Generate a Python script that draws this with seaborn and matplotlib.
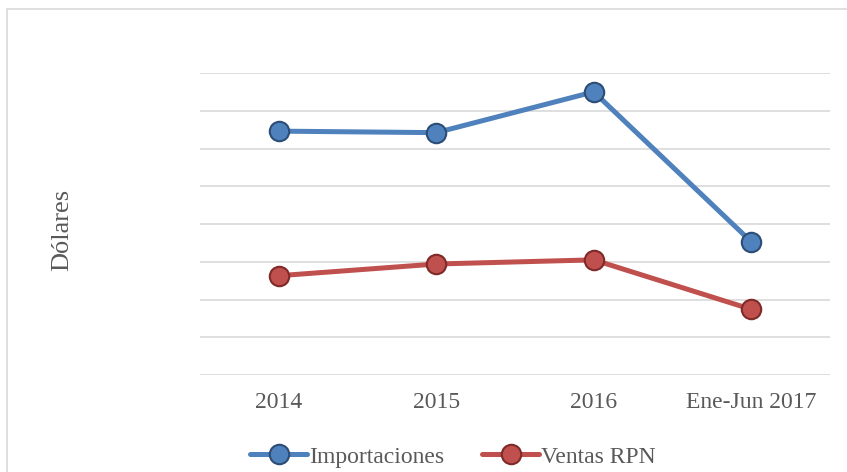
import seaborn as sns
import pandas as pd
import matplotlib.pyplot as plt
from matplotlib.lines import Line2D
from matplotlib.patches import Rectangle

sns.set_theme(style="white")
plt.rcParams['font.family'] = ['Liberation Serif', 'DejaVu Serif']

# Datos (escala sin etiquetas)
periodos = ["2014", "2015", "2016", "Ene-Jun 2017"]
importaciones = [6.46, 6.42, 7.50, 3.53]
ventas_rpn = [2.63, 2.94, 3.05, 1.74]
series = ["Importaciones", "Ventas RPN"]

colores = {"Importaciones": "#4F81BD", "Ventas RPN": "#C0504D"}
bordes = {"Importaciones": "#2C4D75", "Ventas RPN": "#7F2A28"}

df = pd.DataFrame({
    "periodo": periodos * 2,
    "valor": importaciones + ventas_rpn,
    "serie": [series[0]] * len(periodos) + [series[1]] * len(periodos),
})

fig = plt.figure(figsize=(8.47, 4.72), dpi=100)
ax = fig.add_axes([200 / 847, 1 - 375 / 472, 630 / 847, 302 / 472])

sns.lineplot(data=df, x="periodo", y="valor", hue="serie", palette=colores,
             sort=False, linewidth=3.6, marker="o", markersize=14,
             legend=False, ax=ax)

for line, s in zip(ax.lines, series):
    line.set_markeredgecolor(bordes[s])
    line.set_markeredgewidth(1.5)

ax.set_xlim(-0.5, 3.5)
ax.set_ylim(0, 8)
ax.set_yticks(range(0, 9))
ax.set_yticklabels([])
ax.grid(axis="y", color="#D9D9D9", linewidth=1.2)
ax.set_axisbelow(True)
for sp in ax.spines.values():
    sp.set_visible(False)
ax.tick_params(axis="both", length=0)
ax.tick_params(axis="x", labelsize=17, labelcolor="#595959", pad=12)
ax.set_xlabel("")
ax.set_ylabel("")

fig.text(62 / 847, 1 - 230 / 472, "Dólares", rotation=90, ha="center",
         va="center", fontsize=19, color="#595959")

handles = [Line2D([], [], color=colores[s], lw=3.6, marker="o", markersize=14,
                  markeredgecolor=bordes[s], markeredgewidth=1.5) for s in series]
leg = fig.legend(handles, series, loc="center", bbox_to_anchor=(0.535, 1 - 457 / 472),
                 ncol=2, frameon=False, fontsize=17, handlelength=2.4,
                 handletextpad=0.1, columnspacing=1.6)
for t in leg.get_texts():
    t.set_color("#595959")

fig.patches.append(Rectangle((7 / 847, -0.1), 1.2, 1.1 - 9 / 472, transform=fig.transFigure,
                             fill=False, edgecolor="#D9D9D9", linewidth=1.2))

fig.savefig("out.png", dpi=100)
